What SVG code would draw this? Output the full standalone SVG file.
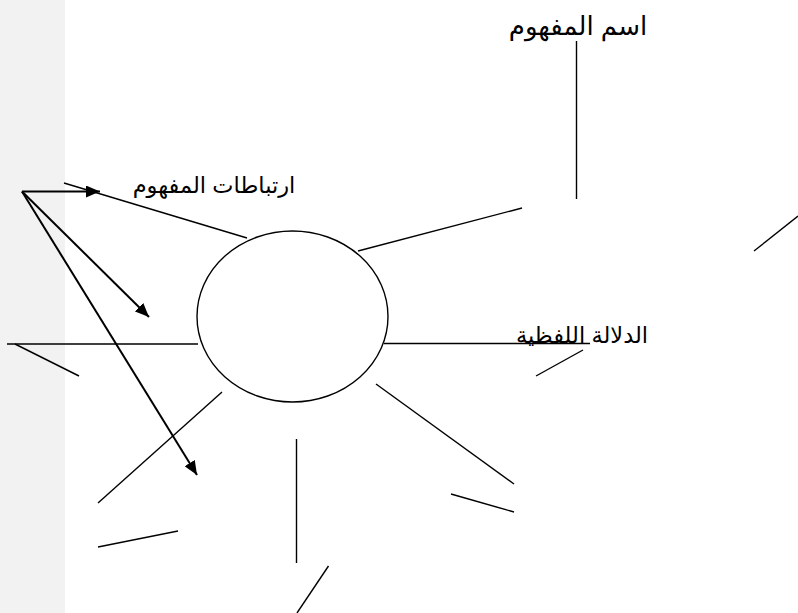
<svg xmlns="http://www.w3.org/2000/svg" width="798" height="613" viewBox="0 0 798 613">
<style>
.ln{stroke:#000;stroke-width:1.4;fill:none}
.ar{stroke:#000;stroke-width:2;fill:none;marker-end:url(#ah)}
.tx{font-family:"Liberation Sans","DejaVu Sans","Noto Sans",sans-serif;fill:#000;text-anchor:middle}
</style>
<defs>
<marker id="ah" markerUnits="userSpaceOnUse" markerWidth="16" markerHeight="12" refX="14" refY="6" orient="auto">
<path d="M0,0 L14,6 L0,12 Z" fill="#000"/>
</marker>
</defs>
<rect x="0" y="0" width="798" height="613" fill="#fff"/>
<rect x="0" y="0" width="65" height="613" fill="#f2f2f2"/>
<g id="center-node">
<ellipse cx="292.5" cy="316.5" rx="95.5" ry="85.5" fill="#fff" stroke="#000" stroke-width="1.4"/>
</g>
<g id="label-name">
<text class="tx" x="578" y="35" font-size="26">اسم المفهوم</text>
</g>
<g id="label-assoc">
<text class="tx" x="214" y="193" font-size="22.5">ارتباطات المفهوم</text>
</g>
<g id="label-meaning">
<text class="tx" x="582" y="342.5" font-size="22.5">الدلالة اللفظية</text>
</g>
<g id="connectors">
<line class="ln" x1="64" y1="183" x2="247" y2="238"/>
<line class="ln" x1="358" y1="251" x2="522" y2="208"/>
<line class="ln" x1="576.5" y1="41" x2="576.5" y2="199"/>
<line class="ln" x1="754" y1="251" x2="798" y2="216"/>
<line class="ln" x1="7" y1="344" x2="198" y2="344"/>
<line class="ln" x1="15" y1="344" x2="79" y2="376"/>
<line class="ln" x1="384" y1="343.5" x2="590" y2="343.5"/>
<line class="ln" x1="536" y1="376" x2="583" y2="350"/>
<line class="ln" x1="376" y1="384" x2="514" y2="484"/>
<line class="ln" x1="451" y1="494" x2="514" y2="512"/>
<line class="ln" x1="222" y1="392" x2="98" y2="503"/>
<line class="ln" x1="98" y1="547" x2="178" y2="531"/>
<line class="ln" x1="296.5" y1="439" x2="296.5" y2="563"/>
<line class="ln" x1="328.5" y1="566" x2="297" y2="613"/>
<line class="ar" x1="22" y1="191.5" x2="100" y2="191.5"/>
<line class="ar" x1="22" y1="191.5" x2="149" y2="317"/>
<line class="ar" x1="22" y1="191.5" x2="197" y2="475"/>
</g>
</svg>
